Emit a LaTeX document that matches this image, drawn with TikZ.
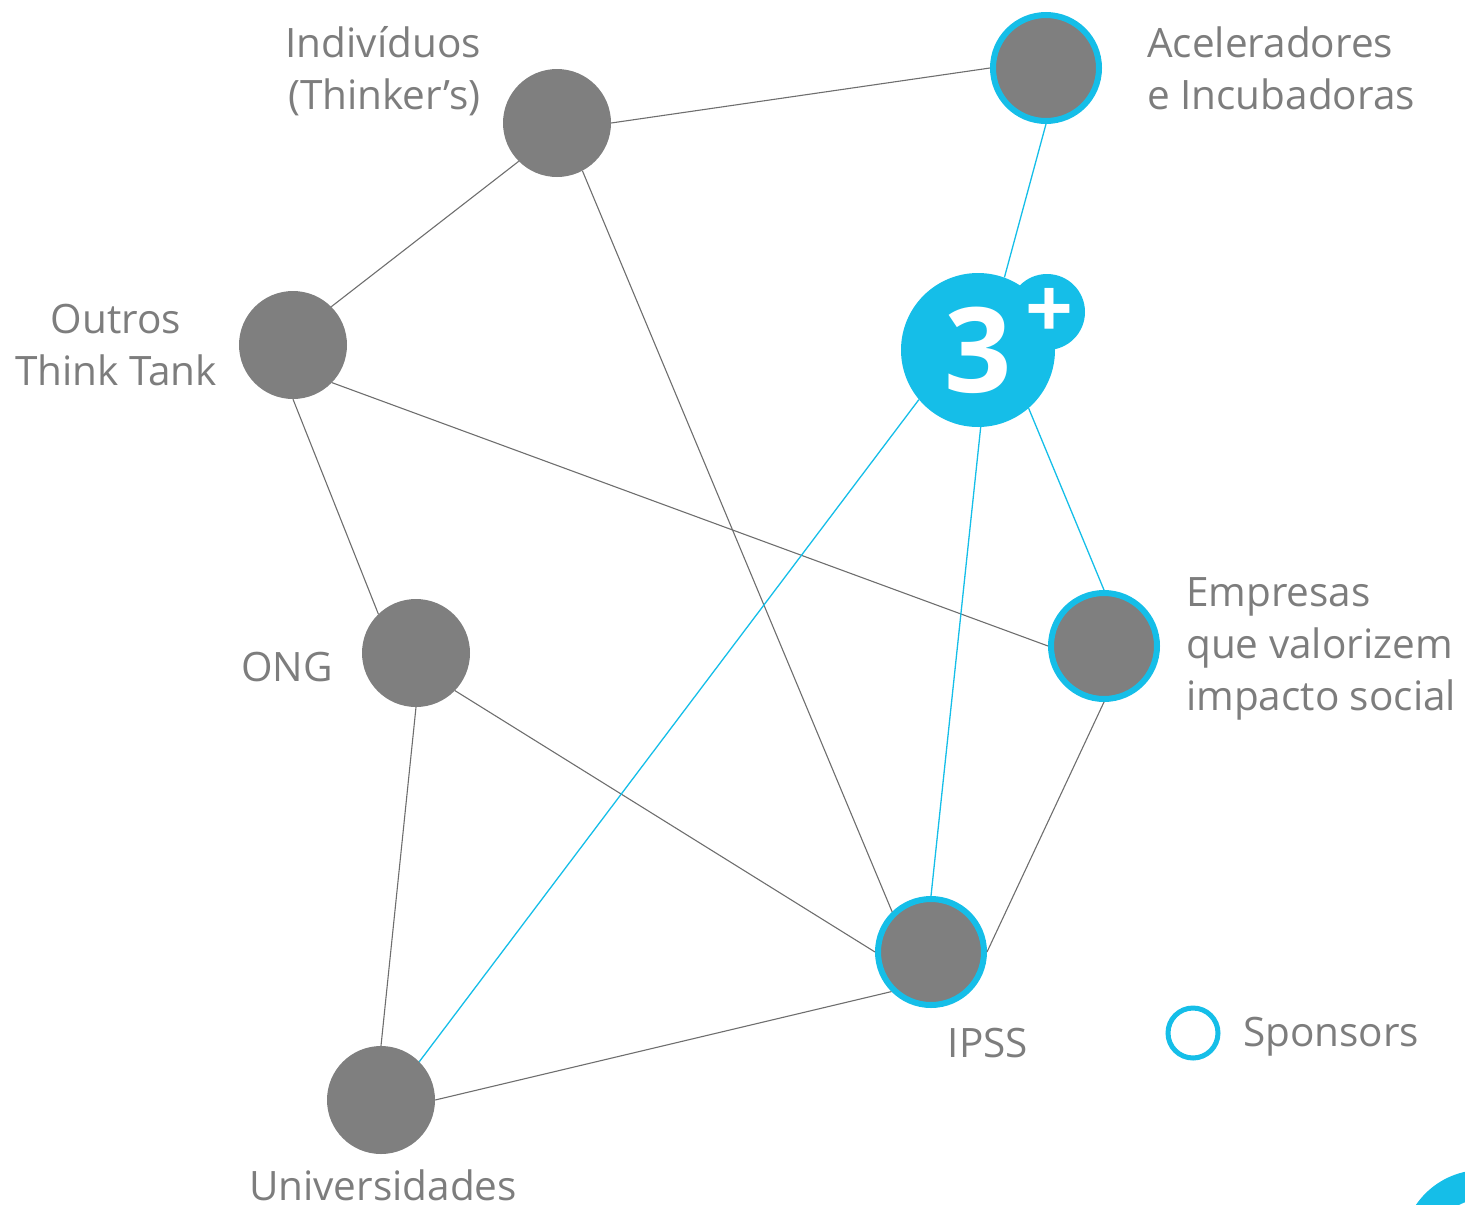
\documentclass[tikz,border=0pt]{standalone}
\usepackage{fontspec}
\setmainfont{Open Sans}
\definecolor{cy}{RGB}{21,190,232}
\definecolor{gnode}{RGB}{127,127,127}
\definecolor{gtext}{RGB}{125,125,125}
\definecolor{gline}{RGB}{110,110,110}
\tikzset{
  dot/.style={circle,fill=gnode,inner sep=0pt,minimum size=108pt},
  sdot/.style={circle,fill=gnode,draw=cy,line width=6pt,inner sep=0pt,minimum size=106pt},
  lab/.style={text=gtext,font=\fontsize{40.5}{52}\selectfont,inner sep=0pt},
  gl/.style={draw=gline,line width=1.1pt},
  cl/.style={draw=cy,line width=1.3pt},
}
\begin{document}
\begin{tikzpicture}[x=1pt,y=-1pt]
\useasboundingbox (0,0) rectangle (1465,1205);
% nodes
\node[dot] (ind) at (557,123) {};
\node[sdot] (acel) at (1046,68) {};
\node[dot] (out) at (293,345) {};
\node[dot] (ong) at (416,653) {};
\node[sdot] (emp) at (1104,646) {};
\node[sdot] (ipss) at (931,952) {};
\node[dot] (uni) at (381,1100) {};
% 3+ logo
\node[circle,fill=cy,inner sep=0pt,minimum size=154pt] (three) at (978,350) {};
\node[circle,fill=cy,inner sep=0pt,minimum size=76pt] (plus) at (1047,312) {};
% edges (gray)
\draw[gl] (ind.0) -- (acel.180);
\draw[gl] (ind.225) -- (out.45);
\draw[gl] (ind.298) -- (ipss.134);
\draw[gl] (out.316) -- (emp.180);
\draw[gl] (out.270) -- (ong.134);
\draw[gl] (ong.316) -- (ipss.180);
\draw[gl] (ong.270) -- (uni.90);
\draw[gl] (uni.0) -- (ipss.225);
\draw[gl] (emp.270) -- (ipss.0);
% edges (cyan)
\draw[cl] (acel.270) -- (three.70);
\draw[cl] (three.220) -- (uni.45);
\draw[cl] (three.272) -- (ipss.90);
\draw[cl] (three.311) -- (emp.90);
% logo text
\node[text=white,font=\fontsize{118}{118}\bfseries\selectfont,inner sep=0pt] (tdig) at (978,350) {3};
\node[text=white,font=\fontsize{84}{84}\bfseries\selectfont,inner sep=0pt] (tplus) at (1049,313) {+};
% labels
\node[lab,align=right,anchor=east] (lind) at (481,71) {Indivíduos\\(Thinker’s)};
\node[lab,align=left,anchor=west] (lacel) at (1147,68) {Aceleradores\\e Incubadoras};
\node[lab,align=center] (lout) at (116,345) {Outros\\Think Tank};
\node[lab,anchor=east] (long) at (333,667) {ONG};
\node[lab,align=left,anchor=west] (lemp) at (1186,649) {Empresas\\que valorizem\\impacto social};
\node[lab] (lipss) at (988,1043) {IPSS};
\node[lab] (luni) at (383,1185) {Universidades};
% legend
\node[circle,draw=cy,line width=5pt,inner sep=0pt,minimum size=50pt] (leg) at (1193,1033) {};
\node[lab,anchor=west] (lleg) at (1243,1037) {Sponsors};
% partial logo at bottom-right
\begin{scope}
\clip (0,0) rectangle (1465,1205);
\node[circle,fill=cy,inner sep=0pt,minimum size=160pt] (three2) at (1482,1250) {};
\node[text=white,font=\fontsize{118}{118}\bfseries\selectfont,inner sep=0pt] (tdig2) at (1484,1243) {3};
\end{scope}
\end{tikzpicture}
\end{document}
